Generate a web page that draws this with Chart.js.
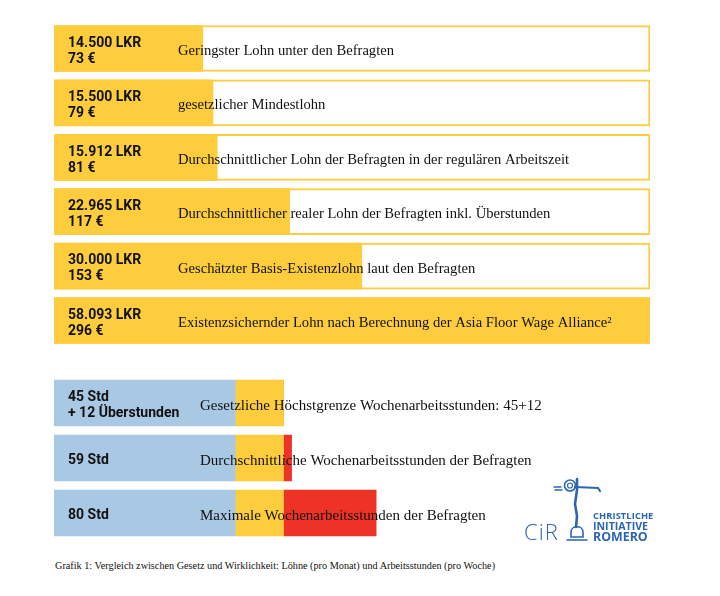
<!DOCTYPE html>
<html>
<head>
<meta charset="utf-8">
<script src="https://cdn.jsdelivr.net/npm/chart.js@4/dist/chart.umd.min.js"></script>
<style>
  html, body { margin: 0; padding: 0; background: #fff; }
  body { width: 720px; height: 596px; position: relative; overflow: hidden; }
  canvas { position: absolute; left: 0; }
  #c1 { top: 0; }
  #c2 { top: 360px; }
  #caption { position: absolute; left: 55px; top: 560px; font: 10.6px "Liberation Serif", serif; color: #111; white-space: nowrap; transform: scaleX(0.965); transform-origin: left top; }
  #logo { position: absolute; left: 520px; top: 476px; width: 140px; height: 70px; }
  #logo .cir { position: absolute; left: 4px; top: 40px; font: 300 22px "Open Sans", sans-serif; color: #2a66b1; letter-spacing: 1px; }
  #logo .txt { position: absolute; left: 73px; top: 35px; color: #2a66b1; font-family: "Open Sans", sans-serif; font-weight: 700; line-height: 1; }
</style>
</head>
<body>
<canvas id="c1" width="720" height="360"></canvas>
<canvas id="c2" width="720" height="200"></canvas>
<div id="caption">Grafik 1: Vergleich zwischen Gesetz und Wirklichkeit: Löhne (pro Monat) und Arbeitsstunden (pro Woche)</div>
<div id="logo">
  <svg width="140" height="70" style="position:absolute;left:0;top:0">
    <g stroke="#2a66b1" fill="none" stroke-linecap="round">
      <circle cx="50" cy="9.5" r="5.5" stroke-width="1.6"/>
      <circle cx="50" cy="9.5" r="2.5" stroke-width="1.2"/>
      <path d="M55 11 L78 12 L80 15" stroke-width="2.2"/>
      <path d="M34 11 L41 11 M35 14 L42 14" stroke-width="1.4"/>
      <path d="M57 3 L57 14 L55 28 L57 40 L56 51" stroke-width="2.6"/>
      <path d="M51 56 C51 49, 63 49, 63 56 L63 61 L51 61 Z" stroke-width="1.6"/>
      <path d="M47 64 L67 64" stroke-width="1.6"/>
    </g>
  </svg>
  <div class="cir">CiR</div>
  <div class="txt">
    <div style="font-size:9.3px;letter-spacing:0.1px">CHRISTLICHE</div>
    <div style="font-size:10.6px;margin-top:0.5px">INITIATIVE</div>
    <div style="font-size:12.4px;margin-top:0px">ROMERO</div>
  </div>
</div>
<script>
// ---- Data ----
const wageLKR = [14500, 15500, 15912, 22965, 30000, 58093];
const wageLKRLabels = ["14.500 LKR", "15.500 LKR", "15.912 LKR", "22.965 LKR", "30.000 LKR", "58.093 LKR"];
const wageEURLabels = ["73 €", "79 €", "81 €", "117 €", "153 €", "296 €"];
const wageDescriptions = [
  "Geringster Lohn unter den Befragten",
  "gesetzlicher Mindestlohn",
  "Durchschnittlicher Lohn der Befragten in der regulären Arbeitszeit",
  "Durchschnittlicher realer Lohn der Befragten inkl. Überstunden",
  "Geschätzter Basis-Existenzlohn laut den Befragten",
  "Existenzsichernder Lohn nach Berechnung der Asia Floor Wage Alliance²"
];
const wageScaleMax = 58093;
const wageBox = [58093, 58093, 58093, 58093, 58093, 58093];

const hoursRegular = [45, 45, 45];
const hoursOvertime = [12, 12, 12];
const hoursExcess = [0, 2, 23];
const hoursLabels = [["45 Std", "+ 12 Überstunden"], ["59 Std"], ["80 Std"]];
const hoursDescriptions = [
  "Gesetzliche Höchstgrenze Wochenarbeitsstunden: 45+12",
  "Durchschnittliche Wochenarbeitsstunden der Befragten",
  "Maximale Wochenarbeitsstunden der Befragten"
];
const hoursScaleMax = 148;

// ---- Style ----
const YELLOW = "#fecd3e";
const BLUE = "#a8c8e3";
const RED = "#ee3326";
const VALUE_FONT = "bold 14px Roboto, sans-serif";
const DESC_FONT = "15px 'Liberation Serif', serif";

function textPlugin(labelLines, descriptions, descX, squeeze) {
  return {
    id: "texts",
    afterDatasetsDraw(chart) {
      const ctx = chart.ctx;
      const ys = chart.scales.y;
      const left = chart.chartArea.left;
      ctx.save();
      ctx.fillStyle = "#111";
      ctx.textBaseline = "alphabetic";
      for (let i = 0; i < descriptions.length; i++) {
        const yc = ys.getPixelForValue(i);
        const lines = labelLines[i];
        ctx.font = VALUE_FONT;
        const lh = 16;
        const center = yc + 1.2;
        lines.forEach((t, k) => {
          const capMid = center + (k - (lines.length - 1) / 2) * lh;
          ctx.fillText(t, left + 14, capMid + 5);
        });
        ctx.font = DESC_FONT;
        ctx.save();
        ctx.translate(descX, yc + 6.5);
        ctx.scale(squeeze, 1);
        ctx.fillText(descriptions[i], 0, 0);
        ctx.restore();
      }
      ctx.restore();
    }
  };
}

const commonOpts = (max, padding) => ({
  responsive: false,
  animation: false,
  indexAxis: "y",
  layout: { padding },
  plugins: { legend: { display: false }, tooltip: { enabled: false } },
  scales: {
    x: { display: false, min: 0, max: max, stacked: true, grid: { display: false } },
    y: { display: false, stacked: true, grid: { display: false } }
  }
});

// Wage chart
const wageOpts = commonOpts(wageScaleMax, { left: 54, right: 70, top: 21.3, bottom: 12.3 });
wageOpts.scales.x.stacked = false;
wageOpts.scales.y.stacked = false;
new Chart(document.getElementById("c1"), {
  type: "bar",
  data: {
    labels: wageLKRLabels,
    datasets: [
      { data: wageLKR, backgroundColor: YELLOW, borderWidth: 0, barThickness: 46, grouped: false, order: 1 },
      { data: wageBox, backgroundColor: "#ffffff", borderColor: YELLOW, borderWidth: 2, borderSkipped: false, barThickness: 46, grouped: false, order: 2 }
    ]
  },
  options: wageOpts,
  plugins: [textPlugin(wageLKRLabels.map((l, i) => [l, wageEURLabels[i]]), wageDescriptions, 178, 0.975)]
});

// Hours chart
new Chart(document.getElementById("c2"), {
  type: "bar",
  data: {
    labels: ["45+12", "59", "80"],
    datasets: [
      { data: hoursRegular, backgroundColor: BLUE, borderWidth: 0, barThickness: 46 },
      { data: hoursOvertime, backgroundColor: YELLOW, borderWidth: 0, barThickness: 46 },
      { data: hoursExcess, backgroundColor: RED, borderWidth: 0, barThickness: 46 }
    ]
  },
  options: commonOpts(hoursScaleMax, { left: 54, right: 70, top: 15.5, bottom: 19.5 }),
  plugins: [textPlugin(hoursLabels, hoursDescriptions, 200, 1)]
});
</script>
</body>
</html>
